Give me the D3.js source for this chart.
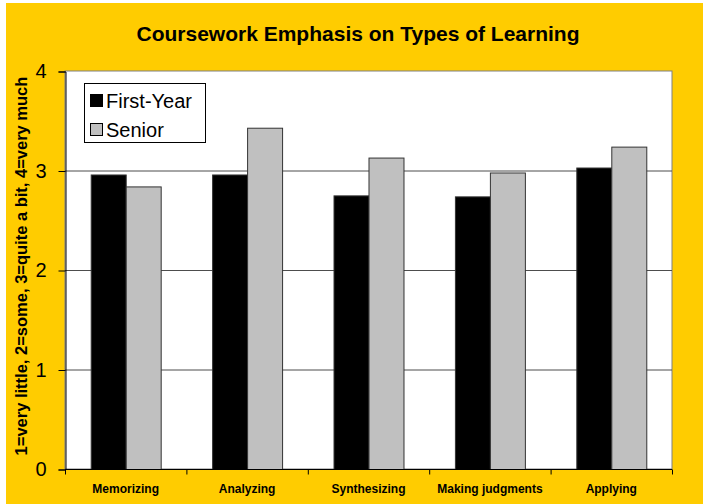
<!DOCTYPE html>
<html>
<head>
<meta charset="utf-8">
<script src="https://cdn.jsdelivr.net/npm/d3@7"></script>
<style>
  html, body { margin: 0; padding: 0; background: #fff; }
  svg { display: block; }
</style>
</head>
<body>
<div id="chart"></div>
<script>
// ---- Data -------------------------------------------------------------------
const categories = ["Memorizing", "Analyzing", "Synthesizing", "Making judgments", "Applying"];
const seriesNames = ["First-Year", "Senior"];
const firstYear = [2.96, 2.96, 2.75, 2.74, 3.03];
const senior = [2.84, 3.43, 3.13, 2.98, 3.24];
const yTicks = [0, 1, 2, 3, 4];

const W = 703, H = 504;
const FONT = "Arial, 'Liberation Sans', sans-serif";
const COL = { bg: "#FFCC00", fy: "#000000", sr: "#C0C0C0", grid: "#4d4d4d", frame: "#808080" };
const M = { left: 65, right: 31, top: 71, bottom: 35 };

const svg = d3.select("#chart").append("svg").attr("width", W).attr("height", H);

// yellow chart area (small white strip top/left)
svg.append("rect").attr("x", 6).attr("y", 3).attr("width", W - 6).attr("height", H - 3).attr("fill", COL.bg);

const x = d3.scaleBand().domain(categories).range([M.left, W - M.right]);
const inner = d3.scaleBand().domain(seriesNames).range([0, x.bandwidth()]).paddingInner(0).paddingOuter(0.735);
const y = d3.scaleLinear().domain([0, 4]).range([H - M.bottom, M.top]);

// plot area
svg.append("rect")
  .attr("x", M.left).attr("y", M.top)
  .attr("width", W - M.left - M.right).attr("height", H - M.top - M.bottom)
  .attr("fill", "#fff").attr("stroke", COL.frame).attr("stroke-width", 1);

// gridlines
svg.append("g")
  .selectAll("line")
  .data(yTicks.filter((t) => t > 0 && t < 4))
  .join("line")
  .attr("x1", M.left).attr("x2", W - M.right)
  .attr("y1", (d) => y(d) + 0.5).attr("y2", (d) => y(d) + 0.5)
  .attr("stroke", COL.grid).attr("stroke-width", 1);

// bars
const rows = categories.map((c, i) => ({ c, vals: [firstYear[i], senior[i]] }));
const grp = svg.append("g").selectAll("g").data(rows).join("g")
  .attr("transform", (d) => `translate(${x(d.c)},0)`);
grp.selectAll("rect")
  .data((d) => d.vals.map((v, j) => ({ s: seriesNames[j], v })))
  .join("rect")
  .attr("x", (d) => inner(d.s) + 0.5)
  .attr("y", (d) => y(d.v) + 0.5)
  .attr("width", inner.bandwidth())
  .attr("height", (d) => y(0) - y(d.v))
  .attr("fill", (d) => (d.s === "First-Year" ? COL.fy : COL.sr))
  .attr("stroke", "#333").attr("stroke-width", 1);

// y axis
const yAxis = svg.append("g")
  .attr("transform", `translate(${M.left + 0.5},0.5)`)
  .call(d3.axisLeft(y).tickValues(yTicks).tickFormat(d3.format("d")).tickSize(7).tickPadding(12));
yAxis.select(".domain").attr("stroke", "#000");
yAxis.selectAll(".tick line").attr("stroke", "#000");
yAxis.selectAll("text").style("font", `20px ${FONT}`).attr("fill", "#000");

// x axis (ticks at category boundaries)
const xAxis = svg.append("g").attr("transform", `translate(0,${H - M.bottom + 0.5})`);
xAxis.append("line").attr("x1", M.left).attr("x2", W - M.right).attr("stroke", "#000");
xAxis.selectAll("line.tk")
  .data(categories.map((c) => x(c)).concat([W - M.right]))
  .join("line").attr("class", "tk")
  .attr("x1", (d) => d + 0.5).attr("x2", (d) => d + 0.5)
  .attr("y1", 0).attr("y2", 5).attr("stroke", "#000");
xAxis.selectAll("text")
  .data(categories)
  .join("text")
  .attr("x", (d) => x(d) + x.bandwidth() / 2)
  .attr("y", 23)
  .attr("text-anchor", "middle")
  .style("font", `bold 12px ${FONT}`)
  .attr("fill", "#000")
  .text((d) => d);

// title
svg.append("text")
  .attr("x", 358).attr("y", 41)
  .attr("text-anchor", "middle")
  .style("font", `bold 21px ${FONT}`)
  .attr("fill", "#000")
  .text("Coursework Emphasis on Types of Learning");

// y axis title
svg.append("text")
  .attr("transform", `translate(27,${(M.top + H - M.bottom) / 2 - 4}) rotate(-90)`)
  .attr("text-anchor", "middle")
  .style("font", `bold 16.5px ${FONT}`)
  .attr("fill", "#000")
  .text("1=very little, 2=some, 3=quite a bit, 4=very much");

// legend
const leg = svg.append("g").attr("transform", "translate(84,83)");
leg.append("rect").attr("x", 0.5).attr("y", 0.5).attr("width", 121).attr("height", 59)
  .attr("fill", "#fff").attr("stroke", "#000").attr("stroke-width", 1);
seriesNames.forEach((s, i) => {
  leg.append("rect")
    .attr("x", 6.5).attr("y", 11.5 + i * 29).attr("width", 12).attr("height", 12)
    .attr("fill", i === 0 ? COL.fy : COL.sr).attr("stroke", "#000").attr("stroke-width", 1);
  leg.append("text")
    .attr("x", 22).attr("y", 24.5 + i * 29)
    .style("font", `20px ${FONT}`)
    .attr("fill", "#000")
    .text(s);
});
</script>
</body>
</html>
